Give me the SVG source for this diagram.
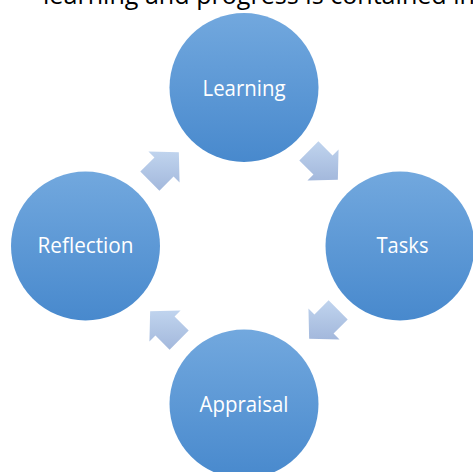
<svg xmlns="http://www.w3.org/2000/svg" width="473" height="472" viewBox="0 0 473 472">
  <defs>
    <linearGradient id="gCircle" x1="0" y1="0" x2="0" y2="1">
      <stop offset="0" stop-color="#72a8de"/>
      <stop offset="1" stop-color="#4889cd"/>
    </linearGradient>
    <linearGradient id="gArrow" x1="0" y1="0" x2="0" y2="1">
      <stop offset="0" stop-color="#c0d4ee"/>
      <stop offset="1" stop-color="#a3b8dc"/>
    </linearGradient>
    <style>
      .node circle { fill: url(#gCircle); }
      .node text { fill: #ffffff; font-family: "Open Sans", "Noto Sans", "Liberation Sans", sans-serif; font-size: 21px; text-anchor: middle; }
      .arrow { fill: url(#gArrow); }
      .title { fill: #000000; font-family: "Open Sans", "Noto Sans", "Liberation Sans", sans-serif; font-size: 26px; }
    </style>
  </defs>
  <rect width="473" height="472" fill="#ffffff"/>
  <text class="title" x="43" y="4" textLength="432" lengthAdjust="spacingAndGlyphs">learning and progress is contained in</text>

  <g id="connectors">
    <polygon class="arrow" points="178.85,152.15 148.44,151.44 154.45,157.45 140.31,171.60 159.40,190.69 173.55,176.55 179.56,182.56"/>
    <polygon class="arrow" points="337.85,179.85 338.56,149.44 332.55,155.45 318.40,141.31 299.31,160.40 313.45,174.55 307.44,180.56"/>
    <polygon class="arrow" points="309.15,338.85 339.56,339.56 333.55,333.55 347.69,319.40 328.60,300.31 314.45,314.45 308.44,308.44"/>
    <polygon class="arrow" points="150.15,311.15 149.44,341.56 155.45,335.55 169.60,349.69 188.69,330.60 174.55,316.45 180.56,310.44"/>
  </g>

  <g id="learning" class="node">
    <circle cx="244" cy="87.5" r="74.5"/>
    <text x="244" y="95.5" textLength="83" lengthAdjust="spacingAndGlyphs">Learning</text>
  </g>
  <g id="tasks" class="node">
    <circle cx="400" cy="246" r="74.5"/>
    <text x="402.5" y="253" textLength="52" lengthAdjust="spacingAndGlyphs">Tasks</text>
  </g>
  <g id="appraisal" class="node">
    <circle cx="244" cy="404" r="74.5"/>
    <text x="244" y="412" textLength="89" lengthAdjust="spacingAndGlyphs">Appraisal</text>
  </g>
  <g id="reflection" class="node">
    <circle cx="85.5" cy="246" r="74.5"/>
    <text x="85.5" y="253" textLength="96" lengthAdjust="spacingAndGlyphs">Reflection</text>
  </g>
</svg>
